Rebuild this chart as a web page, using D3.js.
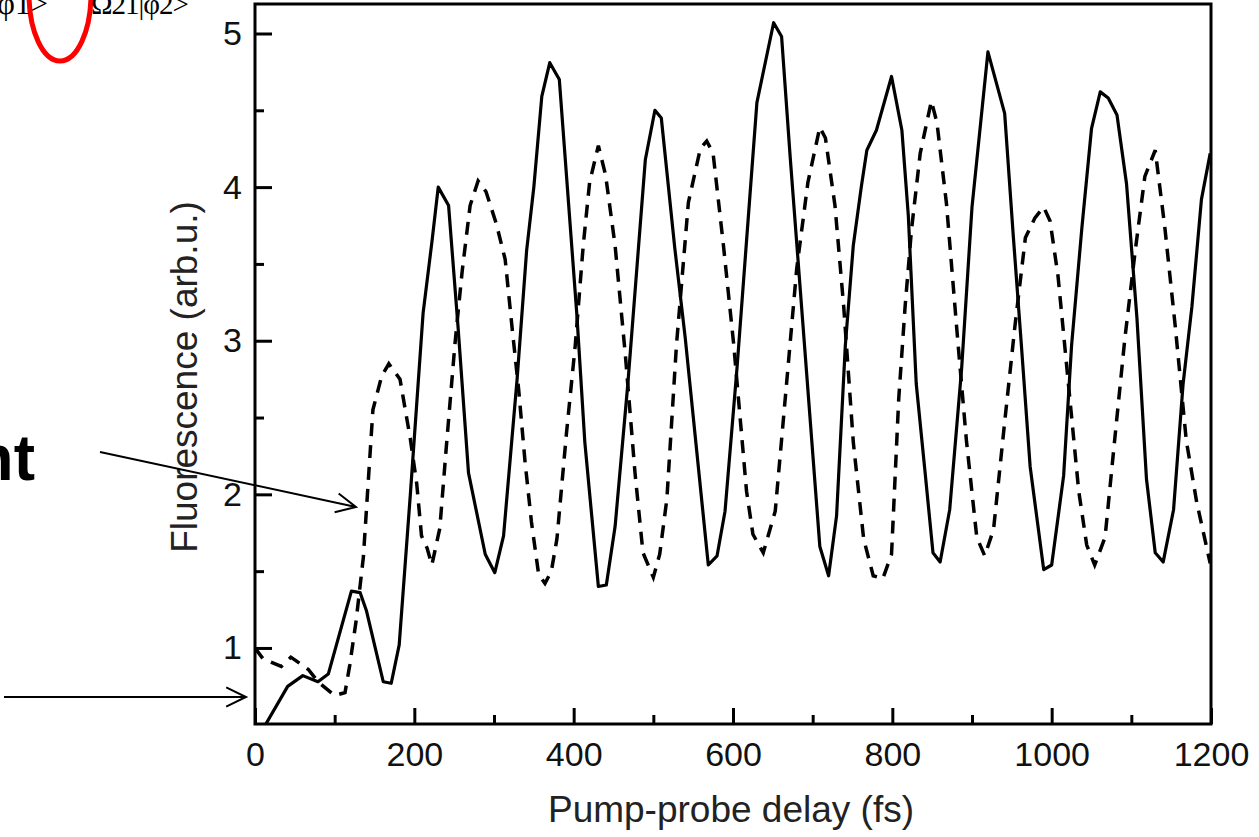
<!DOCTYPE html>
<html>
<head>
<meta charset="utf-8">
<script src="https://cdn.jsdelivr.net/npm/d3@7"></script>
<style>
  body { margin: 0; background: #fff; }
  svg { display: block; }
</style>
</head>
<body>
<div id="chart"></div>
<script>
const width = 1259;
const height = 837;
const margin = { top: 4, right: 48, bottom: 113, left: 255 };
const innerW = width - margin.left - margin.right;
const innerH = height - margin.top - margin.bottom;

// solid trace
const solidDelay = [12, 41, 60, 79, 92, 121, 132, 140, 161, 171, 181, 195, 211, 222, 230, 243, 255, 268, 289, 301,
    312, 329, 341, 350, 360, 370, 382, 404, 414, 431, 441, 452, 468, 490, 502, 510, 527, 540, 569, 580,
    590, 605, 630, 651, 661, 672, 709, 720, 730, 741, 751, 761, 768, 780, 799, 812, 820, 830, 841, 851,
    860, 872, 887, 900, 920, 941, 952, 962, 973, 990, 1000, 1015, 1025, 1038, 1050, 1061, 1071, 1082, 1094, 1107,
    1119, 1130, 1140, 1153, 1165, 1176, 1188, 1199];
const solidFluor = [0.49, 0.75, 0.82, 0.78, 0.83, 1.37, 1.36, 1.24, 0.78, 0.77, 1.02, 2.00, 3.18, 3.64, 4.00, 3.88, 3.08, 2.14, 1.61, 1.49,
    1.73, 2.75, 3.59, 4.00, 4.59, 4.81, 4.70, 3.17, 2.34, 1.40, 1.41, 1.79, 2.72, 4.18, 4.50, 4.45, 3.60, 3.02, 1.54, 1.60,
    1.89, 2.82, 4.55, 5.07, 4.98, 4.18, 1.66, 1.47, 1.86, 2.97, 3.62, 4.00, 4.24, 4.37, 4.72, 4.37, 3.82, 2.72, 2.15, 1.62,
    1.56, 1.90, 2.82, 3.87, 4.88, 4.48, 3.67, 2.97, 2.18, 1.51, 1.54, 2.12, 2.97, 3.74, 4.38, 4.62, 4.58, 4.47, 4.02, 3.15,
    2.10, 1.62, 1.56, 1.90, 2.72, 3.22, 3.92, 4.22];

// dashed trace
const dashedDelay = [0, 10, 33, 45, 67, 79, 100, 113, 119, 127, 136, 142, 148, 159, 168, 182, 195, 203, 209, 216,
    222, 232, 240, 251, 260, 270, 280, 290, 303, 314, 323, 331, 339, 347, 356, 364, 372, 379, 391, 402,
    412, 420, 431, 440, 452, 465, 477, 487, 500, 508, 517, 529, 544, 559, 567, 575, 588, 601, 617, 625,
    638, 653, 665, 680, 694, 709, 716, 728, 739, 751, 764, 776, 788, 799, 808, 816, 824, 835, 849, 856,
    868, 881, 893, 906, 916, 927, 941, 954, 967, 979, 990, 998, 1008, 1021, 1034, 1044, 1054, 1067, 1079, 1092,
    1105, 1117, 1130, 1142, 1155, 1169, 1182, 1199];
const dashedFluor = [1.00, 0.93, 0.88, 0.94, 0.86, 0.78, 0.69, 0.71, 0.89, 1.18, 1.59, 2.07, 2.55, 2.77, 2.85, 2.75, 2.36, 2.07, 1.73, 1.65,
    1.54, 1.78, 2.30, 2.98, 3.45, 3.88, 4.04, 3.97, 3.76, 3.53, 3.07, 2.68, 2.21, 1.82, 1.48, 1.42, 1.50, 1.71, 2.40, 2.97,
    3.62, 4.03, 4.27, 4.08, 3.62, 2.90, 2.14, 1.62, 1.46, 1.61, 1.97, 2.97, 3.90, 4.25, 4.30, 4.22, 3.62, 2.97, 2.02, 1.74,
    1.62, 1.89, 2.59, 3.47, 4.03, 4.39, 4.32, 3.88, 3.22, 2.34, 1.71, 1.47, 1.45, 1.61, 2.62, 3.22, 3.72, 4.22, 4.56, 4.42,
    3.89, 3.07, 2.35, 1.72, 1.60, 1.77, 2.47, 3.10, 3.67, 3.80, 3.87, 3.78, 3.42, 2.72, 2.02, 1.67, 1.54, 1.72, 2.35, 3.02,
    3.59, 4.07, 4.24, 3.74, 3.10, 2.35, 1.95, 1.55];

const xMajor = [0, 200, 400, 600, 800, 1000, 1200];
const xMinor = [100, 300, 500, 700, 900, 1100];
const yMajor = [1, 2, 3, 4, 5];
const yMinor = [1.5, 2.5, 3.5, 4.5];

const svg = d3.select("#chart")
    .append("svg")
        .attr("width", width)
        .attr("height", height)
        .attr("viewBox", [0, 0, width, height]);

svg.append("rect").attr("width", width).attr("height", height).attr("fill", "#fff");

const x = d3.scaleLinear().domain([0, 1200]).range([0, innerW]);
const y = d3.scaleLinear().domain([0.505, 5.192]).range([innerH, 0]);

const g = svg.append("g").attr("transform", `translate(${margin.left},${margin.top})`);

g.append("clipPath").attr("id", "plot-clip")
    .append("rect").attr("width", innerW).attr("height", innerH);

const line = d3.line().x(d => x(d[0])).y(d => y(d[1]));

g.append("path")
    .datum(d3.zip(dashedDelay, dashedFluor))
    .attr("clip-path", "url(#plot-clip)")
    .attr("fill", "none")
    .attr("stroke", "#000")
    .attr("stroke-width", 3.5)
    .attr("stroke-dasharray", "13,9")
    .attr("d", line);

g.append("path")
    .datum(d3.zip(solidDelay, solidFluor))
    .attr("clip-path", "url(#plot-clip)")
    .attr("fill", "none")
    .attr("stroke", "#000")
    .attr("stroke-width", 3.2)
    .attr("stroke-linejoin", "round")
    .attr("d", line);

// axes, ticks pointing inward
function styleAxis(sel) {
    sel.select(".domain").remove();
    sel.selectAll(".tick line").attr("stroke", "#000").attr("stroke-width", 3);
    sel.selectAll(".tick text")
        .attr("fill", "#111")
        .style("font-family", "Liberation Sans, Arial, sans-serif")
        .style("font-size", "34px");
}

g.append("g")
    .attr("transform", `translate(0,${innerH})`)
    .call(d3.axisBottom(x).tickValues(xMajor).tickSize(-16).tickPadding(18).tickFormat(d3.format("d")))
    .call(styleAxis);

g.append("g")
    .attr("transform", `translate(0,${innerH})`)
    .call(d3.axisBottom(x).tickValues(xMinor).tickSize(-9).tickFormat(""))
    .call(styleAxis);

g.append("g")
    .call(d3.axisLeft(y).tickValues(yMajor).tickSize(-17).tickPadding(13).tickFormat(d3.format("d")))
    .call(styleAxis);

g.append("g")
    .call(d3.axisLeft(y).tickValues(yMinor).tickSize(-9).tickFormat(""))
    .call(styleAxis);

g.append("rect")
    .attr("width", innerW)
    .attr("height", innerH)
    .attr("fill", "none")
    .attr("stroke", "#000")
    .attr("stroke-width", 3);

g.append("text")
    .attr("x", innerW / 2 - 2)
    .attr("y", innerH + 98)
    .attr("text-anchor", "middle")
    .attr("fill", "#222")
    .style("font-family", "Liberation Sans, Arial, sans-serif")
    .style("font-size", "37px")
    .text("Pump-probe delay (fs)");

g.append("text")
    .attr("transform", `translate(-58,${innerH / 2 + 13}) rotate(-90)`)
    .attr("text-anchor", "middle")
    .attr("fill", "#222")
    .style("font-family", "Liberation Sans, Arial, sans-serif")
    .style("font-size", "37px")
    .text("Fluorescence (arb.u.)");

// slide leftovers around the chart
const notes = svg.append("g");

notes.append("ellipse")
    .attr("cx", 60).attr("cy", -6).attr("rx", 31).attr("ry", 67)
    .attr("fill", "none").attr("stroke", "#f00").attr("stroke-width", 5);

notes.append("text")
    .attr("x", -3).attr("y", 14)
    .style("font-family", "Liberation Serif, Times New Roman, serif")
    .style("font-size", "31px")
    .text("φ1>");

notes.append("text")
    .attr("x", 91).attr("y", 14)
    .style("font-family", "Liberation Serif, Times New Roman, serif")
    .style("font-size", "29px")
    .style("letter-spacing", "-1px")
    .text("Ω21|φ2>");

notes.append("text")
    .attr("x", 35).attr("y", 480)
    .attr("text-anchor", "end")
    .style("font-family", "Liberation Sans, Arial, sans-serif")
    .style("font-weight", "bold")
    .style("font-size", "64px")
    .text("nt");

function arrow(x1, y1, x2, y2) {
    const a = Math.atan2(y2 - y1, x2 - x1);
    const len = 22, spread = 0.45;
    notes.append("path")
        .attr("fill", "none")
        .attr("stroke", "#000")
        .attr("stroke-width", 2)
        .attr("d", `M${x1},${y1}L${x2},${y2}` +
            `M${x2 - len * Math.cos(a - spread)},${y2 - len * Math.sin(a - spread)}L${x2},${y2}` +
            `L${x2 - len * Math.cos(a + spread)},${y2 - len * Math.sin(a + spread)}`);
}
arrow(100, 452, 356, 507);
arrow(4, 697, 246, 697);
</script>
</body>
</html>
